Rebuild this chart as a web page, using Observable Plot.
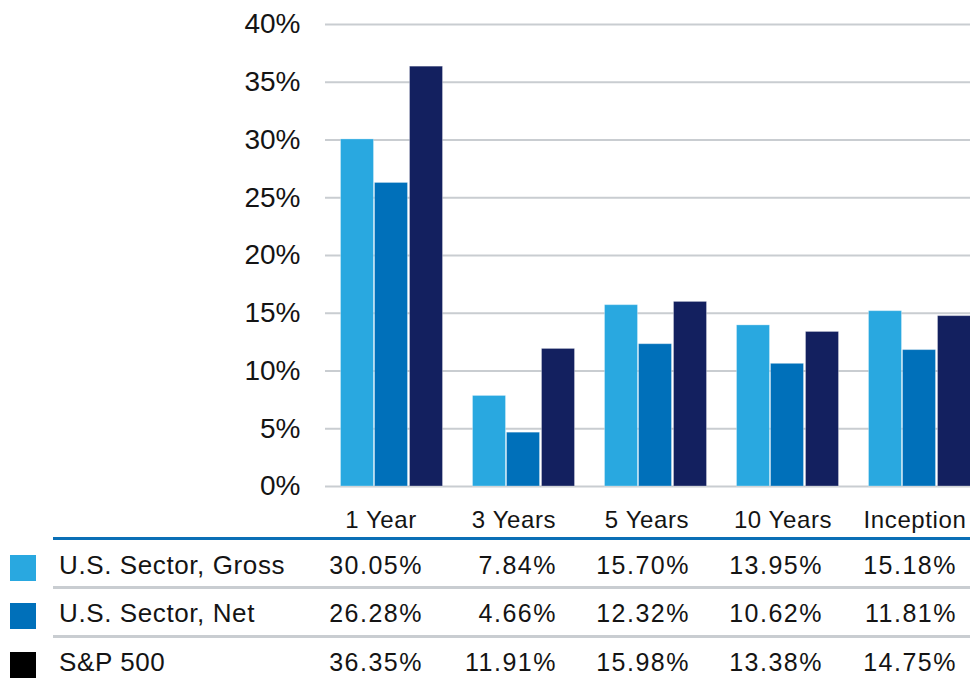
<!DOCTYPE html>
<html><head><meta charset="utf-8">
<script src="https://cdn.jsdelivr.net/npm/d3@7"></script>
<script src="https://cdn.jsdelivr.net/npm/@observablehq/plot@0.6"></script>
<style>
body{margin:0;background:#fff;font-family:"Liberation Sans",Arial,sans-serif;color:#141414;}
#wrap{position:relative;width:970px;height:682px;overflow:hidden;}
#chart{position:absolute;left:0;top:0;}
.t{position:absolute;font-size:25px;line-height:30px;height:30px;white-space:nowrap;}
.hdr{font-size:24px;letter-spacing:0.6px;text-align:center;}
.lab{font-size:26px;letter-spacing:0.6px;}
.num{letter-spacing:1.5px;text-align:right;}
.hline{position:absolute;height:3px;}
.sw{position:absolute;width:26px;height:26px;}
</style></head><body><div id="wrap"><div id="chart"></div></div>
<script>
const periods = ["1 Year","3 Years","5 Years","10 Years","Inception"];
const seriesNames = ["U.S. Sector, Gross","U.S. Sector, Net","S&P 500"];
const gross = [30.05,7.84,15.70,13.95,15.18];
const net = [26.28,4.66,12.32,10.62,11.81];
const sp500 = [36.35,11.91,15.98,13.38,14.75];
const yTicks = [0,5,10,15,20,25,30,35,40];
const barColors = ["#29a8e0","#0070ba","#13205f"];
const legendColors = ["#29a8e0","#0070ba","#000000"];

const seriesValues = [gross, net, sp500];
const data = [];
seriesNames.forEach((s,i)=>periods.forEach((p,j)=>data.push({series:s, period:p, value:seriesValues[i][j]})));

// layout
const barOffsets = [-34, 0, 35];
const plot = Plot.plot({
  width: 970, height: 500,
  marginLeft: 325, marginRight: 0, marginTop: 24, marginBottom: 14,
  style: {fontFamily: '"Liberation Sans",Arial,sans-serif', fontSize: "28px", color: "#141414", background: "transparent", overflow: "visible"},
  x: {domain: periods, range: [324.5, 984.5], padding: 0, axis: null},
  y: {domain: [0, 40], ticks: yTicks, tickFormat: d => d + "%", tickSize: 0, tickPadding: 25, label: null},
  color: {domain: seriesNames, range: barColors},
  marks: [
    Plot.ruleY(yTicks, {stroke: "#c9cdd1", strokeWidth: 2}),
    ...seriesNames.map((s,i) => Plot.barY(data.filter(d => d.series === s), {
      x: "period", y: "value", fill: "series", dx: barOffsets[i], insetLeft: 49.5, insetRight: 49.5,
      stroke: "#ffffff", strokeOpacity: 0.3, strokeWidth: 1
    }))
  ]
});
document.getElementById("chart").appendChild(plot);

// table below the chart
const wrap = document.getElementById("wrap");
function el(cls, css, text){ const d=document.createElement("div"); d.className=cls; Object.assign(d.style,css); if(text!=null) d.textContent=text; wrap.appendChild(d); return d; }
const headerCenters = [381, 514, 647, 783, 915];
const valueRights = [423, 557, 690, 823, 957];
const rowCenters = [565, 613, 662];
periods.forEach((p,j)=>{
  el("t hdr", {top:(520-15)+"px", left:(headerCenters[j]-80)+"px", width:"160px"}, p);
});
el("hline", {top:"537px", left:"53px", width:"917px", background:"#0a6fb6"});
el("hline", {top:"586px", left:"53px", width:"917px", background:"#c9cdd1"});
el("hline", {top:"635px", left:"53px", width:"917px", background:"#c9cdd1"});
seriesNames.forEach((s,i)=>{
  el("sw", {top:(rowCenters[i]-13+3)+"px", left:"10px", background:legendColors[i]});
  el("t lab", {top:(rowCenters[i]-15)+"px", left:"59px"}, s);
  seriesValues[i].forEach((v,j)=>{
    el("t num", {top:(rowCenters[i]-15)+"px", left:(valueRights[j]-130)+"px", width:"130px"}, v.toFixed(2)+"%");
  });
});
</script></body></html>
